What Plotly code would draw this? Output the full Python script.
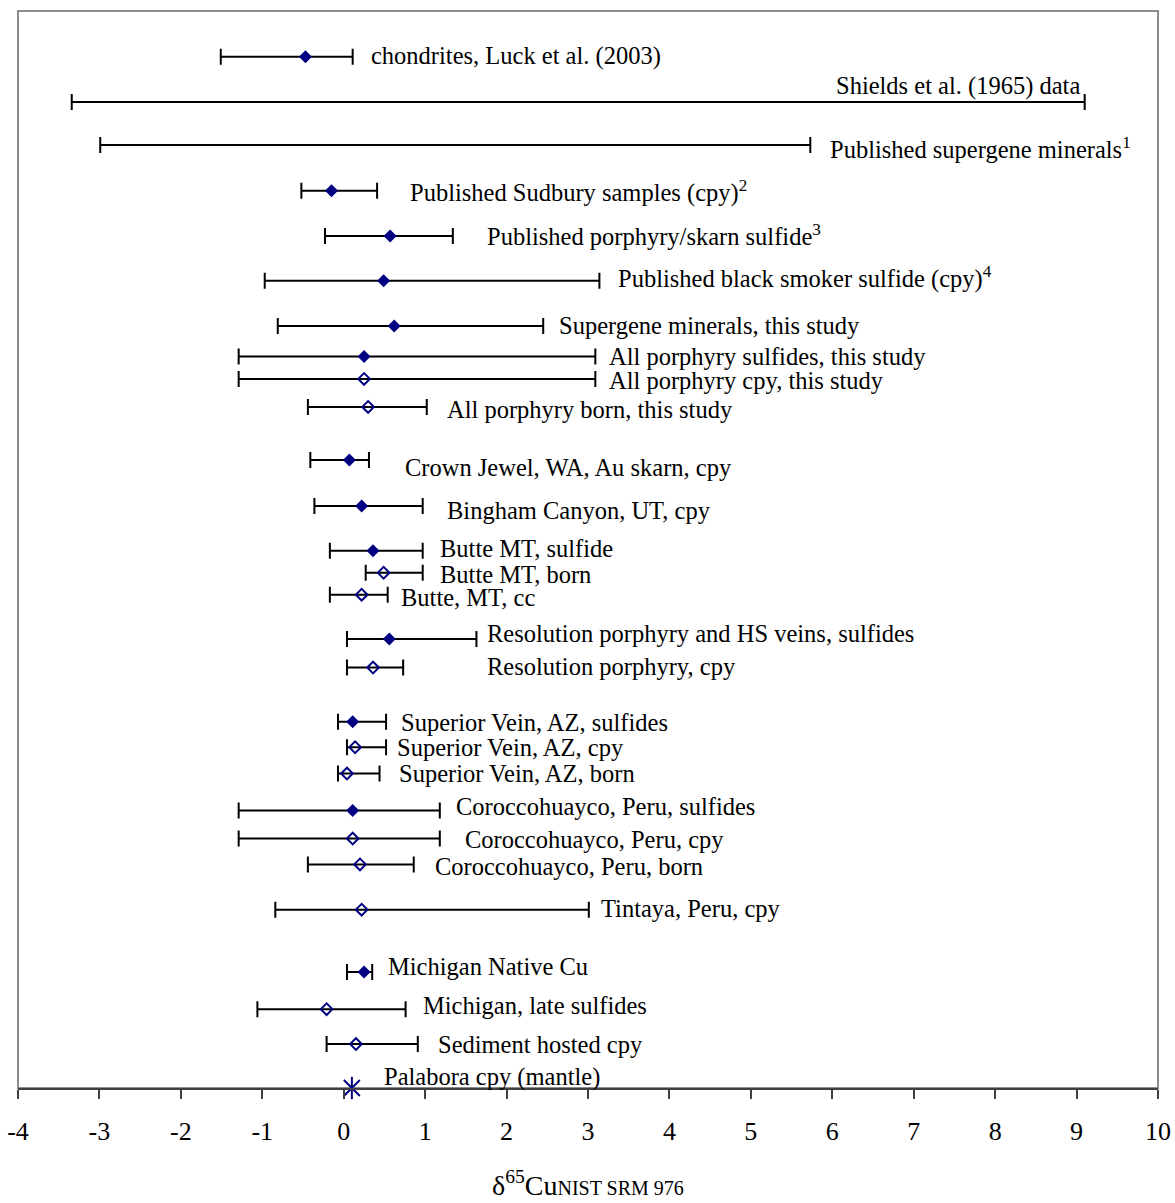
import plotly.graph_objects as go

# ---- data: delta-65Cu ranges and means per sample group ----
groups = [
    "chondrites, Luck et al. (2003)",
    "Shields et al. (1965) data",
    "Published supergene minerals<sup>1</sup>",
    "Published Sudbury samples (cpy)<sup>2</sup>",
    "Published porphyry/skarn sulfide<sup>3</sup>",
    "Published black smoker sulfide (cpy)<sup>4</sup>",
    "Supergene minerals, this study",
    "All porphyry sulfides, this study",
    "All porphyry cpy, this study",
    "All porphyry born, this study",
    "Crown Jewel, WA, Au skarn, cpy",
    "Bingham Canyon, UT, cpy",
    "Butte MT, sulfide",
    "Butte MT, born",
    "Butte, MT, cc",
    "Resolution porphyry and HS veins, sulfides",
    "Resolution porphyry, cpy",
    "Superior Vein, AZ, sulfides",
    "Superior Vein, AZ, cpy",
    "Superior Vein, AZ, born",
    "Coroccohuayco, Peru, sulfides",
    "Coroccohuayco, Peru, cpy",
    "Coroccohuayco, Peru, born",
    "Tintaya, Peru, cpy",
    "Michigan Native Cu",
    "Michigan, late sulfides",
    "Sediment hosted cpy",
    "Palabora cpy (mantle)",
]
# vertical row position of each group
row_pos = [23.94, 22.89, 21.89, 20.83, 19.78, 18.74, 17.69, 16.98, 16.46, 15.81,
           14.58, 13.51, 12.47, 11.96, 11.45, 10.42, 9.76, 8.50, 7.91, 7.30,
           6.44, 5.79, 5.19, 4.14, 2.69, 1.83, 1.02, 0.0]
mean_val = [-0.47, None, None, -0.15, 0.57, 0.49, 0.62, 0.25, 0.25, 0.30,
            0.07, 0.22, 0.36, 0.49, 0.22, 0.56, 0.36, 0.11, 0.14, 0.04,
            0.11, 0.11, 0.20, 0.22, 0.25, -0.21, 0.15, 0.10]
range_lo = [-1.51, -3.34, -2.99, -0.52, -0.23, -0.97, -0.81, -1.29, -1.29, -0.44,
            -0.41, -0.36, -0.17, 0.27, -0.17, 0.04, 0.04, -0.07, 0.04, -0.07,
            -1.29, -1.29, -0.44, -0.84, 0.04, -1.06, -0.21, None]
range_hi = [0.11, 9.10, 5.73, 0.41, 1.34, 3.14, 2.45, 3.09, 3.09, 1.02,
            0.31, 0.97, 0.97, 0.97, 0.54, 1.63, 0.73, 0.52, 0.52, 0.44,
            1.18, 1.18, 0.86, 3.01, 0.35, 0.76, 0.91, None]
# marker kind: "filled" = sulfide/whole-group mean, "open" = single mineral, "star" = mantle
marker_kind = ["filled", None, None, "filled", "filled", "filled", "filled", "filled", "open", "open",
               "filled", "filled", "filled", "open", "open", "filled", "open", "filled", "open", "open",
               "filled", "open", "open", "open", "filled", "open", "open", "star"]

x_ticks = [-4, -3, -2, -1, 0, 1, 2, 3, 4, 5, 6, 7, 8, 9, 10]
x_tick_text = ["-4", "-3", "-2", "-1", "0", "1", "2", "3", "4", "5", "6", "7", "8", "9", "10"]

# ---- label placement (text boxes beside the bars) ----
label_x = [0.31, 9.07, 5.95, 0.79, 1.74, 3.34, 2.62, 3.23, 3.23, 1.24,
           0.73, 1.24, 1.16, 1.16, 0.68, 1.74, 1.74, 0.68, 0.63, 0.66,
           1.35, 1.47, 1.10, 3.13, 0.52, 0.95, 1.13, 0.47]
label_y = [23.96, 23.26, 21.82, 20.81, 19.80, 18.81, 17.69, 16.99, 16.43, 15.74,
           14.40, 13.40, 12.53, 11.93, 11.38, 10.54, 9.78, 8.48, 7.91, 7.31,
           6.53, 5.76, 5.15, 4.17, 2.82, 1.91, 1.00, 0.26]
label_anchor = ["left", "right"] + ["left"] * 26

NAVY = "#000080"
SERIF = "Liberation Serif, Times New Roman, serif"

fig = go.Figure()

# range bars (drawn from the low end with a one-sided error bar)
rng_idx = [i for i in range(len(groups)) if range_lo[i] is not None]
fig.add_trace(go.Scatter(
    x=[range_lo[i] for i in rng_idx],
    y=[row_pos[i] for i in rng_idx],
    mode="markers",
    marker=dict(size=1, opacity=0),
    error_x=dict(type="data", symmetric=False,
                 array=[range_hi[i] - range_lo[i] for i in rng_idx],
                 arrayminus=[0] * len(rng_idx),
                 color="black", thickness=2, width=8),
    hoverinfo="skip", showlegend=False,
))

# filled means
f_idx = [i for i, k in enumerate(marker_kind) if k == "filled"]
fig.add_trace(go.Scatter(
    x=[mean_val[i] for i in f_idx], y=[row_pos[i] for i in f_idx],
    mode="markers",
    marker=dict(symbol="diamond", size=10, color=NAVY, line=dict(width=0)),
    showlegend=False,
))

# open means
o_idx = [i for i, k in enumerate(marker_kind) if k == "open"]
fig.add_trace(go.Scatter(
    x=[mean_val[i] for i in o_idx], y=[row_pos[i] for i in o_idx],
    mode="markers",
    marker=dict(symbol="diamond-open", size=9, color=NAVY, line=dict(width=2, color=NAVY)),
    showlegend=False,
))

# mantle value: asterisk built from an x and a vertical stroke
s_idx = [i for i, k in enumerate(marker_kind) if k == "star"]
for sym in ["x-thin-open", "line-ns-open"]:
    fig.add_trace(go.Scatter(
        x=[mean_val[i] for i in s_idx], y=[row_pos[i] for i in s_idx],
        mode="markers", cliponaxis=False,
        marker=dict(symbol=sym, size=16, color=NAVY, line=dict(width=2, color=NAVY)),
        showlegend=False,
    ))

annotations = []
for i, name in enumerate(groups):
    annotations.append(dict(
        x=label_x[i], y=label_y[i], xref="x", yref="y",
        text=name, showarrow=False,
        xanchor=label_anchor[i], yanchor="middle",
        font=dict(family=SERIF, size=24.5, color="black"),
    ))

annotations.append(dict(
    x=0.5, y=-0.089, xref="paper", yref="paper",
    text="δ<sup>65</sup>Cu<span style='font-size:20px'>NIST SRM 976</span>",
    showarrow=False, xanchor="center", yanchor="middle",
    font=dict(family=SERIF, size=28, color="black"),
))

fig.update_layout(
    width=1175, height=1203,
    margin=dict(l=18, r=17, t=11, b=115),
    paper_bgcolor="white", plot_bgcolor="white",
    annotations=annotations,
    shapes=[dict(type="rect", xref="paper", yref="paper", x0=0, x1=1, y0=0, y1=1,
                 line=dict(color="#8c8c8c", width=2), layer="below")],
    xaxis=dict(range=[-4, 10], tickmode="array", tickvals=x_ticks, ticktext=x_tick_text,
               showgrid=False, zeroline=False, automargin=False,
               showline=True, linecolor="#404040", linewidth=2,
               ticks="outside", ticklen=9, tickwidth=1.5, tickcolor="#404040",
               ticklabelstandoff=10,
               tickfont=dict(family=SERIF, size=26, color="black")),
    yaxis=dict(range=[0, 25], visible=False, showgrid=False, zeroline=False),
)

fig.write_html("out.html")
